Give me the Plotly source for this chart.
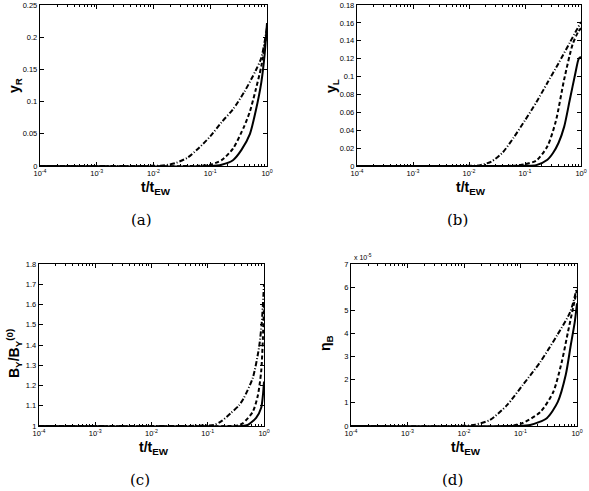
import plotly.graph_objects as go

# ---------------- data (x given as log10(t/t_EW)) ----------------
# panel (a): y_R
a_solid_logt = [-4, -1.0, -0.8, -0.6, -0.45, -0.3, -0.2, -0.1, -0.04, 0]
a_solid_y = [0, 0, 0.002, 0.009, 0.025, 0.05, 0.085, 0.13, 0.175, 0.222]
a_dash_logt = [-4, -1.2, -1.0, -0.8, -0.6, -0.4, -0.3, -0.2, -0.1, 0]
a_dash_y = [0, 0.0003, 0.002, 0.009, 0.027, 0.062, 0.085, 0.118, 0.155, 0.21]
a_dd_logt = [-4, -2.0, -1.8, -1.6, -1.4, -1.2, -1.0, -0.8, -0.6, -0.4, -0.2, -0.1, 0]
a_dd_y = [0, 0.0003, 0.001, 0.005, 0.013, 0.028, 0.046, 0.068, 0.088, 0.115, 0.148, 0.168, 0.215]

# panel (b): y_L
b_solid_logt = [-4, -1.0, -0.8, -0.6, -0.5, -0.4, -0.3, -0.2, -0.1, -0.04, 0]
b_solid_y = [0, 0.0003, 0.001, 0.007, 0.0145, 0.026, 0.044, 0.074, 0.104, 0.12, 0.122]
b_dash_logt = [-4, -1.2, -1.0, -0.8, -0.6, -0.45, -0.3, -0.15, -0.05, 0]
b_dash_y = [0, 0.0003, 0.002, 0.006, 0.022, 0.05, 0.097, 0.136, 0.15, 0.154]
b_dd_logt = [-4, -2.0, -1.8, -1.6, -1.4, -1.2, -1.0, -0.8, -0.6, -0.4, -0.2, 0]
b_dd_y = [0, 0.0002, 0.001, 0.005, 0.015, 0.032, 0.051, 0.071, 0.093, 0.115, 0.138, 0.161]

# panel (c): B_Y / B_Y^(0)
c_solid_logt = [-4, -0.4, -0.29, -0.14, -0.05, -0.02, 0]
c_solid_y = [1, 1.0, 1.005, 1.04, 1.09, 1.15, 1.22]
c_dash_logt = [-4, -0.6, -0.45, -0.37, -0.2, -0.11, -0.05, -0.02, 0]
c_dash_y = [1, 1.0, 1.003, 1.015, 1.07, 1.15, 1.27, 1.43, 1.61]
c_dd_logt = [-4, -1.4, -1.1, -0.89, -0.75, -0.59, -0.45, -0.36, -0.2, -0.09, -0.04, 0]
c_dd_y = [1, 1.0, 1.002, 1.005, 1.025, 1.064, 1.10, 1.138, 1.237, 1.385, 1.51, 1.70]

# panel (d): eta_B (in units of 1e-5)
d_solid_logt = [-4, -1.1, -0.83, -0.53, -0.34, -0.2, -0.11, -0.04, 0]
d_solid_y = [0, 0, 0.04, 0.35, 1.04, 2.2, 3.5, 4.49, 5.3]
d_dash_logt = [-4, -1.2, -0.96, -0.65, -0.42, -0.27, -0.16, -0.07, 0]
d_dash_y = [0, 0.0, 0.13, 0.6, 1.47, 2.77, 4.06, 5.1, 5.88]
d_dd_logt = [-4, -2.0, -1.8, -1.54, -1.24, -0.96, -0.65, -0.35, -0.12, 0]
d_dd_y = [0, 0.01, 0.06, 0.26, 0.9, 1.77, 2.77, 3.93, 4.93, 6.0]

x_tickvals = [1e-4, 1e-3, 1e-2, 1e-1, 1]
x_ticktext = ["10<sup>-4</sup>", "10<sup>-3</sup>", "10<sup>-2</sup>", "10<sup>-1</sup>", "10<sup>0</sup>"]

a_yticks = [0, 0.05, 0.1, 0.15, 0.2, 0.25]
a_yticktext = ["0", "0.05", "0.1", "0.15", "0.2", "0.25"]
b_yticks = [0, 0.02, 0.04, 0.06, 0.08, 0.1, 0.12, 0.14, 0.16, 0.18]
b_yticktext = ["0", "0.02", "0.04", "0.06", "0.08", "0.1", "0.12", "0.14", "0.16", "0.18"]
c_yticks = [1, 1.1, 1.2, 1.3, 1.4, 1.5, 1.6, 1.7, 1.8]
c_yticktext = ["1", "1.1", "1.2", "1.3", "1.4", "1.5", "1.6", "1.7", "1.8"]
d_yticks = [0, 1, 2, 3, 4, 5, 6, 7]
d_yticktext = ["0", "1", "2", "3", "4", "5", "6", "7"]

captions = ["(a)", "(b)", "(c)", "(d)"]
ylabels = ["y<sub>R</sub>", "y<sub>L</sub>", "B<sub>Y</sub>/B<sub>Y</sub><sup>(0)</sup>", "η<sub>B</sub>"]
xlabel = "t/t<sub>EW</sub>"

# ---------------- figure ----------------
W, H = 589, 491
fig = go.Figure()

panels = [
    dict(solid=(a_solid_logt, a_solid_y), dash=(a_dash_logt, a_dash_y), dd=(a_dd_logt, a_dd_y),
         yrange=[0, 0.25], yt=a_yticks, ytt=a_yticktext, box=(40, 267, 5, 166), ylab_y=86),
    dict(solid=(b_solid_logt, b_solid_y), dash=(b_dash_logt, b_dash_y), dd=(b_dd_logt, b_dd_y),
         yrange=[0, 0.18], yt=b_yticks, ytt=b_yticktext, box=(357, 581, 5, 166), ylab_y=86),
    dict(solid=(c_solid_logt, c_solid_y), dash=(c_dash_logt, c_dash_y), dd=(c_dd_logt, c_dd_y),
         yrange=[1, 1.8], yt=c_yticks, ytt=c_yticktext, box=(39, 264, 264, 426), ylab_y=354),
    dict(solid=(d_solid_logt, d_solid_y), dash=(d_dash_logt, d_dash_y), dd=(d_dd_logt, d_dd_y),
         yrange=[0, 7], yt=d_yticks, ytt=d_yticktext, box=(351, 577, 264, 426), ylab_y=343),
]

styles = {
    "dd": dict(color="black", width=2, dash="5px,2px,1px,2px"),
    "dash": dict(color="black", width=2, dash="4px,2.5px"),
    "solid": dict(color="black", width=2),
}

minor_vals = [k * 10 ** e for e in range(-4, 0) for k in range(2, 10)]
tickfont = dict(family="Liberation Sans, Arial, sans-serif", size=7.5, color="black")
annotations = []


def ann(px, py, text, font, **kw):
    d = dict(x=px / W, y=1 - py / H, xref="paper", yref="paper", text=text,
             showarrow=False, xanchor="center", yanchor="middle", font=font)
    d.update(kw)
    return d


for i, p in enumerate(panels):
    n = "" if i == 0 else str(i + 1)
    xa, ya = "x" + n, "y" + n
    for key in ["dd", "dash", "solid"]:
        lt, yv = p[key]
        fig.add_trace(go.Scatter(
            x=[10 ** v for v in lt], y=yv, mode="lines",
            line=dict(shape="spline", smoothing=0.7, **styles[key]),
            xaxis=xa, yaxis=ya, showlegend=False, hoverinfo="skip"))
    x0, x1, y0, y1 = p["box"]
    common = dict(showline=True, mirror="allticks", linecolor="black", linewidth=1.2,
                  ticks="inside", ticklen=4, tickcolor="black", tickwidth=1,
                  showgrid=False, zeroline=False, tickfont=tickfont, automargin=False)
    fig.layout["xaxis" + n] = dict(
        type="log", range=[-4, 0], domain=[x0 / W, x1 / W], anchor=ya,
        tickvals=x_tickvals, ticktext=x_ticktext,
        minor=dict(tickvals=minor_vals, ticks="inside", ticklen=2, tickcolor="black"),
        **common)
    fig.layout["yaxis" + n] = dict(
        range=p["yrange"], domain=[1 - y1 / H, 1 - y0 / H], anchor=xa,
        tickvals=p["yt"], ticktext=p["ytt"], **common)

    cx = (x0 + x1) / 2
    annotations.append(ann(cx + 2, y1 + 22, "<b>" + xlabel + "</b>",
                           dict(family="Liberation Sans, Arial", size=14, color="black")))
    annotations.append(ann(cx - 12, y1 + 54, captions[i],
                           dict(family="DejaVu Serif, Liberation Serif, serif", size=15, color="black")))
    annotations.append(ann(x0 - 25, p["ylab_y"], "<b>" + ylabels[i] + "</b>",
                           dict(family="Liberation Sans, Arial", size=14, color="black"),
                           textangle=-90))

annotations.append(ann(352, 257, "x 10<sup>-5</sup>",
                       dict(family="Liberation Sans, Arial", size=7, color="black"),
                       xanchor="left"))

fig.update_layout(width=W, height=H, margin=dict(l=0, r=0, t=0, b=0, autoexpand=False),
                  paper_bgcolor="white", plot_bgcolor="white", annotations=annotations)

fig.write_html("out.html", config={"displayModeBar": False, "staticPlot": True},
               post_script="document.body.style.margin='0';document.body.style.overflow='hidden';")
